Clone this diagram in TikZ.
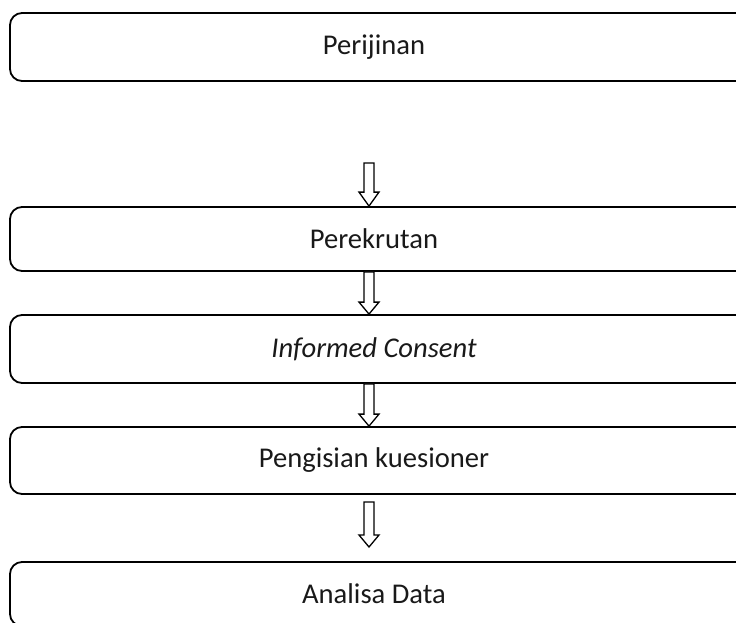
\documentclass[tikz,border=0pt]{standalone}
\usepackage{fontspec}
\setmainfont{Carlito}
\newcommand\hollowarrow[3]{%
  \draw[arrowline] ([xshift=-5pt]#1) -- ([xshift=-5pt,yshift=#3]#2) -- ([xshift=-10pt,yshift=#3]#2) -- (#2)
    -- ([xshift=10pt,yshift=#3]#2) -- ([xshift=5pt,yshift=#3]#2) -- ([xshift=5pt]#1) -- cycle;}
\newcommand\stagetext[1]{\hspace*{-22pt}#1}
\begin{document}
\begin{tikzpicture}[x=1pt,y=-1pt,
  stage/.style={draw=black, line width=1.8pt, rounded corners=12pt, minimum width=750pt,
    inner sep=0pt, font=\fontsize{28.6}{34}\selectfont, text=black!90},
  arrowline/.style={draw=black, line width=1.3pt, fill=white, line join=miter}]
\useasboundingbox (0,0) rectangle (736,622);
\node[stage, minimum height=68pt] (perijinan) at (385,47) {\stagetext{Perijinan}};
\node[stage, minimum height=64pt] (perekrutan) at (385,239) {\stagetext{Perekrutan}};
\node[stage, minimum height=68pt] (consent) at (385,349) {\stagetext{\itshape Informed Consent}};
\node[stage, minimum height=67pt] (pengisian) at (385,460.5) {\stagetext{Pengisian kuesioner}};
\node[stage, minimum height=64pt] (analisa) at (385,594) {\stagetext{Analisa Data}};
\coordinate (a1s) at (369,163);
\coordinate (a1t) at ([xshift=-16pt]perekrutan.north);
\coordinate (a2s) at ([xshift=-16pt]perekrutan.south);
\coordinate (a2t) at ([xshift=-16pt]consent.north);
\coordinate (a3s) at ([xshift=-16pt]consent.south);
\coordinate (a3t) at ([xshift=-16pt]pengisian.north);
\coordinate (a4s) at (369,502);
\coordinate (a4t) at (369,547);
\hollowarrow{a1s}{a1t}{14pt}
\hollowarrow{a2s}{a2t}{12pt}
\hollowarrow{a3s}{a3t}{12pt}
\hollowarrow{a4s}{a4t}{12pt}
\end{tikzpicture}
\end{document}
